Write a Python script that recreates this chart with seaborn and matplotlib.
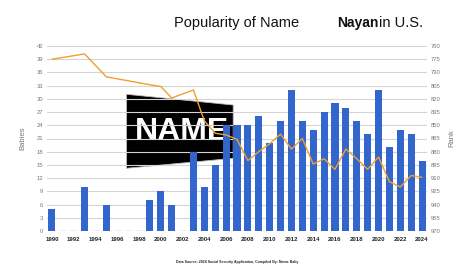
import numpy as np
import pandas as pd
import matplotlib
matplotlib.use("Agg")
import matplotlib.pyplot as plt
from matplotlib.patches import Polygon
import seaborn as sns

# ---- data ----
years = list(range(1990, 2025))
babies = [5, 0, 0, 10, 0, 6, 0, 0, 0, 7, 9, 6, 0, 18, 10, 15, 24, 24, 24, 26,
          20, 25, 32, 25, 23, 27, 29, 28, 25, 22, 32, 19, 23, 22, 16]
ranks = [775, None, None, 769, None, 795, None, None, None, 804, 806, 819, None, 810,
         845, 859, 861, 866, 890, 880, 871, 860, 877, 865, 894, 888, 900, 877, 888,
         900, 886, 914, 920, 907, 909]
babies_ticks = list(range(0, 43, 3))
rank_ticks = list(range(760, 971, 15))
title_main = "Popularity of Name"
title_name = "Nayan"
title_tail = "in U.S."
footer = "Data Source: 2024 Social Security Application, Compiled By: Name Baby"

BAR = "#3366cc"
LINE = "#f0a030"
GRID = "#d4d4d4"

sns.set_style("white")
plt.rcParams["font.family"] = ["Liberation Sans", "DejaVu Sans"]

df = pd.DataFrame({"year": [str(y) for y in years], "babies": babies, "rank": ranks})
df["pos"] = np.arange(len(df))

fig = plt.figure(figsize=(4.74, 2.77), dpi=100)
ax = fig.add_axes([46.5 / 474, 1 - 231 / 277, (427.5 - 46.5) / 474, (231 - 46) / 277])

sns.barplot(data=df, x="year", y="babies", color=BAR, saturation=1, width=0.65, ax=ax, zorder=2)
for p, v in zip(ax.patches, babies):
    if v == 0:
        p.set_edgecolor("#aebbdc")
        p.set_linewidth(1.0)
    else:
        p.set_linewidth(0)

ax.set_xlim(-0.5, len(years) - 0.5)
ax.set_ylim(0, 42)
ax.set_yticks(babies_ticks)
ax.set_yticklabels([str(t) for t in babies_ticks], fontsize=4.2, color="#777777")
ax.set_xticks(df["pos"][::2])
ax.set_xticklabels(df["year"][::2], fontsize=4.3, color="#222222", fontweight="bold")
ax.tick_params(axis="both", length=0)
ax.tick_params(axis="x", pad=4)
ax.tick_params(axis="y", pad=2.5)
ax.grid(axis="y", color=GRID, linewidth=0.8)
ax.grid(axis="x", visible=False)
ax.set_axisbelow(True)
for s in ax.spines.values():
    s.set_visible(False)
ax.set_xlabel("")
ax.set_ylabel("Babies", fontsize=5.5, color="#777777", labelpad=7)

# watermark logo (decoration)
logo = Polygon([[0.210, 0.739], [0.490, 0.681], [0.490, 0.393], [0.210, 0.339]],
               closed=True, transform=ax.transAxes, facecolor="black",
               edgecolor="#bbbbbb", linewidth=0.6, zorder=0.1)
ax.add_patch(logo)
ax.text(0.356, 0.535, "NAME", transform=ax.transAxes, color="white", fontsize=23,
        fontweight="bold", ha="center", va="center", zorder=0.2)

ax2 = ax.twinx()
line_df = df.dropna(subset=["rank"])
sns.lineplot(data=line_df, x="pos", y="rank", color=LINE, linewidth=1.0, ax=ax2)
ax2.set_ylim(970, 760)
ax2.set_yticks(rank_ticks)
ax2.set_yticklabels([str(t) for t in rank_ticks], fontsize=4.2, color="#777777")
ax2.tick_params(axis="y", length=0, pad=2)
ax2.set_xlim(-0.5, len(years) - 0.5)
for s in ax2.spines.values():
    s.set_visible(False)
ax2.grid(False)
ax2.set_xlabel("")
ax2.set_ylabel("Rank", fontsize=5.5, color="#777777", labelpad=6)

fig.text(0.499, 0.917, title_main, fontsize=10.5, ha="center", va="center", color="#111111")
fig.text(378 / 474, 0.917, title_name, fontsize=10, fontweight="bold", ha="right",
         va="center", color="#111111")
fig.text(379 / 474, 0.917, title_tail, fontsize=10.5, ha="left", va="center", color="#111111")
fig.text(0.5, 1 - 262 / 277, footer, fontsize=2.5, fontweight="bold", ha="center",
         va="center", color="#222222")

fig.savefig("out.png", dpi=100)
